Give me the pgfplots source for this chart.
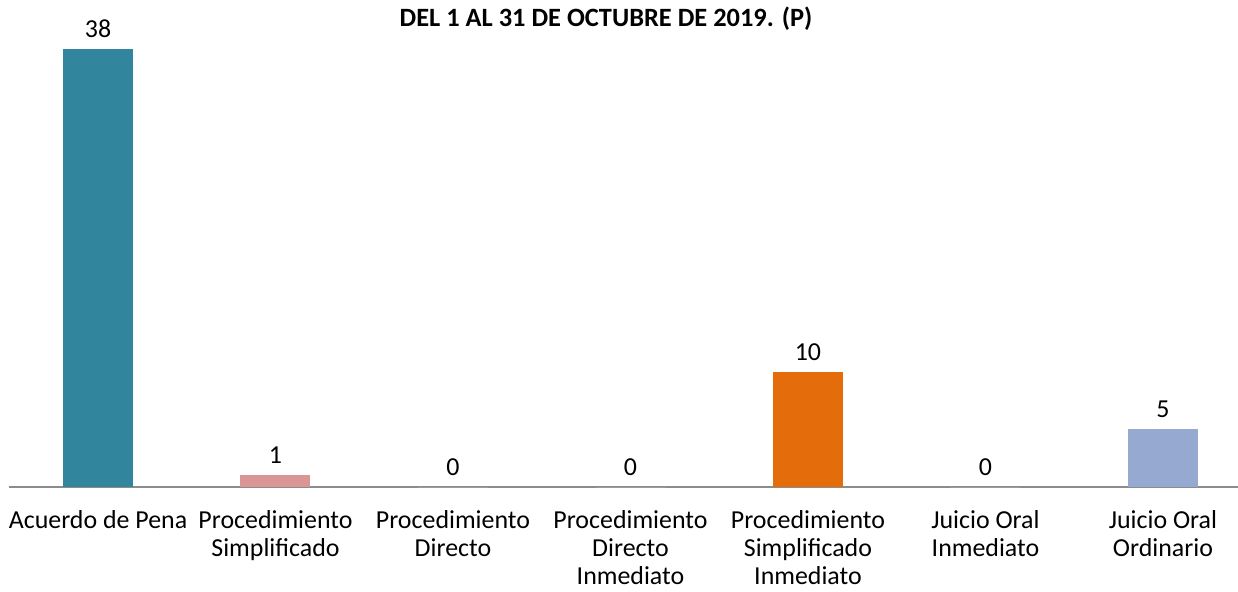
\documentclass[border=0pt]{standalone}
\usepackage{pgfplots}
\pgfplotsset{compat=1.18}
\usepackage{fontspec}
\setmainfont{Carlito}
\definecolor{c1}{HTML}{31859C}
\definecolor{c2}{HTML}{D99694}
\definecolor{c3}{HTML}{E46C0A}
\definecolor{c4}{HTML}{95A9D1}
\begin{document}
\begin{tikzpicture}
\useasboundingbox (0,0) rectangle (1238bp,592bp);
\node[font=\fontsize{26.5}{30}\selectfont\bfseries] at (606bp,573bp) {DEL 1 AL 31 DE OCTUBRE DE 2019. (P)};
\begin{scope}
\clip (0,0) rectangle (1238bp,592bp);
\begin{axis}[
  at={(9.25bp,105bp)}, anchor=south west,
  scale only axis, width=1242.5bp, height=438bp,
  xmin=-0.5, xmax=6.5, ymin=0, ymax=38,
  axis x line*=bottom, axis y line=none,
  x axis line style={draw=black!45, line width=1.2pt, -},
  ytick=\empty,
  xtick={0,1,2,3,4,5,6},
  xticklabels={Acuerdo de Pena, Procedimiento\\Simplificado, Procedimiento\\Directo, Procedimiento\\Directo\\Inmediato, Procedimiento\\Simplificado\\Inmediato, Juicio Oral\\Inmediato, Juicio Oral\\Ordinario},
  xticklabel style={align=center, font=\fontsize{26}{28}\selectfont, yshift=-20bp},
  major tick length=0pt,
  ybar, bar width=70bp, bar shift=0pt,
  clip=false,
  nodes near coords,
  every node near coord/.append style={font=\fontsize{26}{28}\selectfont, yshift=8bp, /pgf/number format/assume math mode=true},
]
\addplot[fill=c1, draw=none] coordinates {(0,38)};
\addplot[fill=c2, draw=none] coordinates {(1,1)};
\addplot[fill=white, draw=none] coordinates {(2,0)};
\addplot[fill=white, draw=none] coordinates {(3,0)};
\addplot[fill=c3, draw=none] coordinates {(4,10)};
\addplot[fill=white, draw=none] coordinates {(5,0)};
\addplot[fill=c4, draw=none] coordinates {(6,5)};
\end{axis}
\end{scope}
\end{tikzpicture}
\end{document}
